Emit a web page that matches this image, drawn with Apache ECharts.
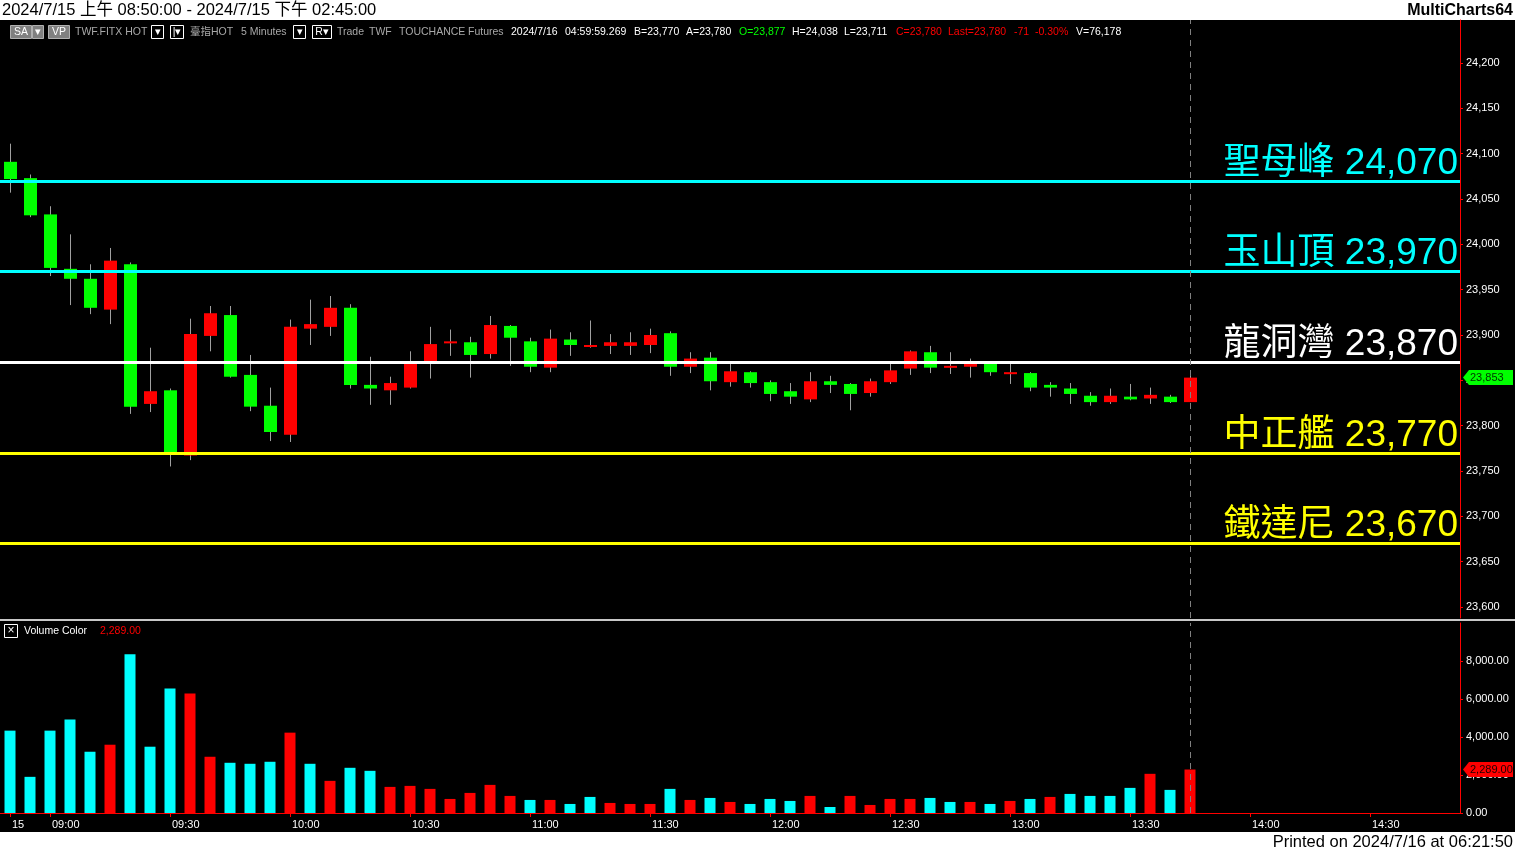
<!DOCTYPE html>
<html>
<head>
<meta charset="utf-8">
<script src="https://cdn.jsdelivr.net/npm/echarts@6/dist/echarts.min.js"></script>
<style>
html,body{margin:0;padding:0;background:#000;}
#c{width:1515px;height:851px;}
</style>
</head>
<body>
<div id="c"></div>
<script>
// ---- data ----
const times = ['08:50','08:55',
 '09:00','09:05','09:10','09:15','09:20','09:25','09:30','09:35','09:40','09:45','09:50','09:55',
 '10:00','10:05','10:10','10:15','10:20','10:25','10:30','10:35','10:40','10:45','10:50','10:55',
 '11:00','11:05','11:10','11:15','11:20','11:25','11:30','11:35','11:40','11:45','11:50','11:55',
 '12:00','12:05','12:10','12:15','12:20','12:25','12:30','12:35','12:40','12:45','12:50','12:55',
 '13:00','13:05','13:10','13:15','13:20','13:25','13:30','13:35','13:40','13:45','13:50','13:55',
 '14:00','14:05','14:10','14:15','14:20','14:25','14:30','14:35','14:40','14:45','14:50'];
const xTickTimes = ['08:50','09:00','09:30','10:00','10:30','11:00','11:30','12:00','12:30','13:00','13:30','14:00','14:30'];
const xTickNames = {'08:50':'15'};

const opens  = [24091,24073,24033,23973,23962,23928,23978,23824,23839,23767,23899,23922,23856,23822,23790,23907,23909,23930,23845,23839,
                23842,23871,23891,23892,23879,23910,23893,23864,23895,23887,23888,23888,23889,23902,23865,23875,23848,23859,23848,23838,
                23829,23849,23846,23836,23848,23863,23881,23864,23865,23869,23858,23858,23845,23841,23833,23826,23832,23830,23832,23826];
const highs  = [24111,24077,24042,24011,23978,23996,23980,23886,23841,23918,23932,23932,23878,23842,23917,23939,23943,23934,23876,23854,
                23882,23909,23906,23898,23921,23911,23897,23906,23903,23916,23901,23903,23907,23904,23881,23881,23868,23860,23850,23847,
                23859,23855,23847,23852,23870,23883,23888,23881,23874,23871,23870,23859,23848,23847,23837,23841,23846,23842,23834,23859];
const lows   = [24057,24030,23965,23933,23923,23912,23813,23815,23755,23762,23882,23853,23816,23783,23782,23889,23899,23841,23823,23823,
                23841,23852,23877,23853,23874,23866,23859,23859,23877,23886,23879,23878,23880,23855,23858,23839,23843,23842,23827,23824,
                23826,23836,23817,23832,23846,23856,23858,23857,23853,23855,23846,23838,23832,23824,23822,23824,23828,23824,23825,23826];
const closes = [24072,24032,23974,23962,23930,23982,23821,23838,23770,23901,23924,23854,23821,23793,23909,23912,23930,23845,23841,23847,
                23870,23890,23893,23878,23911,23897,23865,23896,23889,23889,23892,23892,23900,23865,23874,23849,23860,23847,23835,23832,
                23849,23845,23835,23849,23861,23882,23864,23866,23868,23859,23859,23842,23842,23835,23826,23833,23829,23834,23826,23853];
const volumes = [4335,1903,4335,4916,3224,3594,8352,3489,6555,6290,2960,2643,2590,2696,4229,2590,1692,2379,2220,1374,
                 1427,1269,740,1057,1480,899,687,687,476,846,529,476,476,1269,687,793,581,476,740,634,
                 899,317,899,423,740,740,793,581,581,476,634,740,846,1004,899,899,1322,2062,1216,2289];
// volume colour class: 'c' = cyan, 'r' = red
const volClass = ['c','c','c','c','c','r','c','c','c','r','r','c','c','c','r','c','r','c','c','r',
                  'r','r','r','r','r','r','c','r','c','c','r','r','r','c','r','c','r','c','c','c',
                  'r','c','r','r','r','r','c','c','r','c','r','c','r','c','c','c','c','r','c','r'];
const levelNames  = ['聖母峰','玉山頂','龍洞灣','中正艦','鐵達尼'];
const levelValues = [24070, 23970, 23870, 23770, 23670];
const priceTicks = [23600,23650,23700,23750,23800,23850,23900,23950,24000,24050,24100,24150,24200];
const volTicks = [0,2000,4000,6000,8000];
const priceMin = 23587.9, priceMax = 24247.4;
const volMin = 0, volMax = 10000;

// ---- styles ----
const levelColors = ['#00FFFF','#00FFFF','#FFFFFF','#FFFF00','#FFFF00'];
const UP = '#FF0000', DOWN = '#00FF00';
const FONT = '"Liberation Sans", Arial, "Noto Sans CJK TC", sans-serif';
const fmt0 = v => Number(v).toLocaleString('en-US');
const fmt2 = v => Number(v).toLocaleString('en-US',{minimumFractionDigits:2,maximumFractionDigits:2});

const candleData = opens.map((o,i)=>[i,o,closes[i],lows[i],highs[i]]);
const volData = volumes.map((v,i)=>({value:v, itemStyle:{color: volClass[i]==='c' ? '#00FFFF' : '#FF0000'}}));
const lastIdx = closes.length-1;
const lastTime = times[lastIdx];

const chart = echarts.init(document.getElementById('c'), null, {renderer:'canvas'});

const tickFn = (idx, val) => xTickTimes.indexOf(val) >= 0;

function txt(x, y, text, color, opts){
  return Object.assign({type:'text', x:x, y:y, silent:true,
    style:Object.assign({text:text, fill:color, font:'11px '+FONT, textVerticalAlign:'middle', verticalAlign:'middle'}, opts||{})});
}
const TB = {font:'10.5px '+FONT};
function tb(x, text, color){ return txt(x, 32.5, text, color, TB); }
function boxBtn(x, w, label, fill, stroke, color){
  return [
    {type:'rect', shape:{x:x+0.5, y:25.5, width:w, height:13}, style:{fill:fill, stroke:stroke, lineWidth:1}, silent:true},
    txt(x+w/2+0.5, 32.5, label, color, {align:'center', font:'10.5px '+FONT})
  ];
}
const GR = '#A8A8A8', WH = '#FFFFFF';
const graphics = [
  {type:'rect', shape:{x:0,y:0,width:1515,height:20}, style:{fill:'#FFFFFF'}, silent:true},
  txt(2, 10.5, '2024/7/15 上午 08:50:00 - 2024/7/15 下午 02:45:00', '#000', {font:'16.5px '+FONT}),
  txt(1513, 10.5, 'MultiCharts64', '#000', {font:'bold 16px '+FONT, align:'right'}),
  {type:'rect', shape:{x:0,y:832,width:1515,height:19}, style:{fill:'#FFFFFF'}, silent:true},
  txt(1513, 842, 'Printed on 2024/7/16 at 06:21:50', '#000', {font:'16.5px '+FONT, align:'right'}),
  // toolbar
  ...boxBtn(10, 21, 'SA', '#808080', '#B0B0B0', WH),
  ...boxBtn(32, 11, '▾', '#808080', '#B0B0B0', WH),
  ...boxBtn(48, 21, 'VP', '#808080', '#B0B0B0', WH),
  tb(75, 'TWF.FITX HOT', GR),
  ...boxBtn(151, 12, '▾', '#000', WH, WH),
  ...boxBtn(170, 13, '|▾', '#000', WH, WH),
  tb(190, '臺指HOT', GR),
  tb(241, '5 Minutes', GR),
  ...boxBtn(293, 12, '▾', '#000', WH, WH),
  ...boxBtn(312, 19, 'R▾', '#000', WH, WH),
  tb(337, 'Trade', GR), tb(369, 'TWF', GR), tb(399, 'TOUCHANCE', GR), tb(468, 'Futures', GR),
  tb(511, '2024/7/16', WH), tb(565, '04:59:59.269', WH),
  tb(634, 'B=23,770', WH), tb(686, 'A=23,780', WH),
  tb(739, 'O=23,877', '#00FF00'),
  tb(792, 'H=24,038', WH), tb(844, 'L=23,711', WH),
  tb(896, 'C=23,780', '#FF0000'), tb(948, 'Last=23,780', '#FF0000'),
  tb(1014, '-71', '#FF0000'), tb(1035, '-0.30%', '#FF0000'),
  tb(1076, 'V=76,178', WH),
  // separator between panes
  {type:'rect', shape:{x:0,y:619,width:1515,height:2}, style:{fill:'#C8C8C8'}, silent:true},
  // volume pane header
  {type:'rect', shape:{x:4.5,y:624.5,width:13,height:13}, style:{fill:'#000', stroke:'#FFFFFF', lineWidth:1}, silent:true},
  txt(11, 631, '×', '#FFFFFF', {align:'center', font:'12px '+FONT}),
  txt(24, 631, 'Volume Color', '#FFFFFF', TB),
  txt(100, 631, fmt2(volumes[lastIdx]), '#FF0000', TB)
];

const option = {
  backgroundColor:'#000',
  animation:false,
  graphic: graphics,
  grid:[
    {left:0, top:20, width:1460, height:598},
    {left:0, top:623, width:1460, height:190}
  ],
  xAxis:[
    {type:'category', gridIndex:0, data:times, boundaryGap:true, show:false},
    {type:'category', gridIndex:1, data:times, boundaryGap:true,
     axisLine:{show:true, lineStyle:{color:'#FF0000', width:1}},
     axisTick:{show:true, alignWithLabel:true, interval:tickFn, length:4, lineStyle:{color:'#FF0000'}},
     axisLabel:{show:true, interval:tickFn, color:'#FFFFFF', fontSize:11, fontFamily:FONT, align:'left', margin:6,
                padding:[0,0,0,2], formatter: v => (xTickNames[v] || v)},
     splitLine:{show:false}}
  ],
  yAxis:[
    {type:'value', gridIndex:0, position:'right', min:priceMin, max:priceMax, scale:true,
     axisLine:{show:true, lineStyle:{color:'#FF0000'}},
     axisTick:{show:true, length:3, lineStyle:{color:'#FF0000'}, customValues:priceTicks},
     axisLabel:{show:true, color:'#FFFFFF', fontSize:11, fontFamily:FONT, margin:6, customValues:priceTicks,
                formatter: v => fmt0(v)},
     splitLine:{show:false}},
    {type:'value', gridIndex:1, position:'right', min:volMin, max:volMax,
     axisLine:{show:true, lineStyle:{color:'#FF0000'}},
     axisTick:{show:true, length:3, lineStyle:{color:'#FF0000'}, customValues:volTicks},
     axisLabel:{show:true, color:'#FFFFFF', fontSize:11, fontFamily:FONT, margin:6, customValues:volTicks,
                formatter: v => fmt2(v)},
     splitLine:{show:false}}
  ],
  series:[
    {
      type:'custom', name:'price', xAxisIndex:0, yAxisIndex:0,
      data:candleData,
      encode:{x:0, y:[1,2,3,4]},
      clip:false,
      renderItem:function(params, api){
        const x = api.value(0), o = api.value(1), c = api.value(2), l = api.value(3), h = api.value(4);
        const pH = api.coord([x,h]), pL = api.coord([x,l]);
        const pO = api.coord([x,o]), pC = api.coord([x,c]);
        const w = api.size([1,0])[0]*0.65;
        const top = Math.min(pO[1],pC[1]), bot = Math.max(pO[1],pC[1]);
        const hh = Math.max(bot-top, 2);
        const col = c >= o ? UP : DOWN;
        const cx = Math.round(pH[0]) + 0.5;
        return {type:'group', children:[
          {type:'line', shape:{x1:cx, y1:pH[1], x2:cx, y2:pL[1]}, style:{stroke:'#A0A0A0', lineWidth:1}},
          {type:'rect', shape:{x:Math.round(cx-w/2), y:top, width:Math.round(w), height:hh}, style:{fill:col}}
        ]};
      }
    },
    {
      type:'line', name:'levels', xAxisIndex:0, yAxisIndex:0, data:[], clip:false, silent:true,
      markLine:{
        silent:true, symbol:['none','none'], animation:false,
        data: levelValues.map((v,i)=>({
          yAxis:v,
          lineStyle:{color:levelColors[i], width:3, type:'solid'},
          label:{show:true, position:'insideEndTop', formatter: levelNames[i]+' '+fmt0(v),
                 color:levelColors[i], fontSize:37, fontFamily:FONT, distance:[2,-1]}
        })).concat([
          {xAxis:lastTime, lineStyle:{color:'#808080', width:1, type:[6,5]}, label:{show:false}}
        ])
      }
    },
    {
      type:'bar', name:'volume', xAxisIndex:1, yAxisIndex:1, data:volData, barWidth:11,
      markLine:{
        silent:true, symbol:['none','none'], animation:false,
        data:[
          {xAxis:lastTime, lineStyle:{color:'#808080', width:1, type:[6,5]}, label:{show:false}}
        ]
      }
    }
  ]
};
chart.setOption(option);

// last-value markers on the right axes, positioned via the axes' own scales
function marker(yAxisIndex, value, text, fill, textColor){
  const y = chart.convertToPixel({yAxisIndex:yAxisIndex}, value);
  const ax = 1461;
  return [
    {type:'polygon', silent:true, z:200,
     shape:{points:[[ax+2,y],[ax+8,y-7.5],[1513,y-7.5],[1513,y+7.5],[ax+8,y+7.5]]}, style:{fill:fill}},
    Object.assign(txt(ax+9, y+0.5, text, textColor), {z:201})
  ];
}
chart.setOption({graphic: graphics.concat(
  marker(0, closes[lastIdx], fmt0(closes[lastIdx]), '#00FF00', '#003300'),
  marker(1, volumes[lastIdx], fmt2(volumes[lastIdx]), '#FF0000', '#200000')
)});
</script>
</body>
</html>
